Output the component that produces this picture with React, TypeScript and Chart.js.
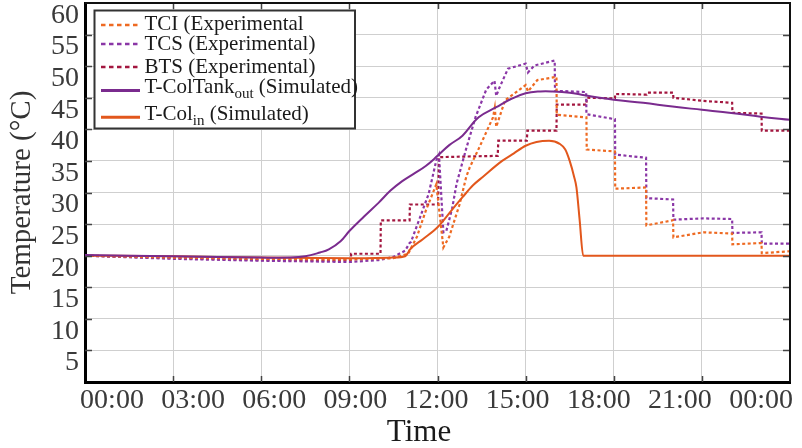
import React, { useEffect, useRef } from 'react';
import { Chart, registerables } from 'chart.js';

Chart.register(...registerables);

// ---- axis ticks ----
const xTickHours = [0, 3, 6, 9, 12, 15, 18, 21, 24];
const xTickLabels = ['00:00', '03:00', '06:00', '09:00', '12:00', '15:00', '18:00', '21:00', '00:00'];
const yMin = 0;
const yMax = 60;
const yStep = 5;

// ---- series (hours of day, °C) ----
const tciHours = [0, 3, 6, 9, 10.5, 11.0, 11.3, 11.6, 11.96, 12.2, 12.4, 12.75, 12.98, 13.1, 13.43, 13.89, 13.95, 14.0, 14.3, 15.0, 15.08, 15.4, 16.05, 16.06, 17.07, 17.08, 18.04, 18.05, 19.1, 19.11, 20.02, 20.03, 21.05, 22.03, 22.04, 23.03, 23.04, 24];
const tciTemps = [20.0, 19.7, 19.5, 19.4, 19.6, 20.3, 23.0, 27.1, 31.3, 21.3, 23.0, 28.1, 32.5, 34.0, 37.2, 41.9, 43.4, 40.4, 44.6, 47.0, 46.0, 47.8, 48.3, 42.3, 41.9, 36.8, 36.5, 30.6, 30.8, 24.8, 25.6, 22.9, 23.7, 23.5, 21.8, 22.0, 20.4, 20.7];

const tcsHours = [0, 3, 6, 9, 10.0, 10.5, 10.9, 11.05, 11.1, 11.4, 11.7, 11.96, 12.05, 12.2, 12.3, 12.5, 12.65, 12.98, 13.3, 13.66, 13.94, 14.0, 14.1, 14.4, 15.0, 15.08, 15.3, 15.99, 16.0, 17.06, 17.07, 18.04, 18.05, 19.1, 19.11, 20.02, 20.03, 21.05, 22.03, 22.04, 23.03, 23.04, 24];
const tcsTemps = [20.0, 19.5, 19.2, 19.0, 19.3, 19.8, 20.8, 22.0, 22.2, 26.0, 29.8, 35.1, 36.0, 23.7, 23.9, 27.5, 31.4, 37.0, 42.0, 46.3, 47.7, 45.3, 46.5, 49.6, 50.4, 49.0, 50.1, 50.9, 46.1, 45.9, 42.4, 41.6, 36.0, 35.5, 29.1, 28.9, 25.7, 25.9, 25.8, 23.6, 23.7, 21.9, 21.9];

const btsHours = [0, 3, 6, 8.5, 9.05, 9.06, 10.06, 10.07, 11.05, 11.06, 12.02, 12.05, 14.05, 14.07, 15.04, 15.06, 16.05, 16.06, 17.07, 17.08, 18.04, 18.05, 19.12, 19.15, 20.02, 20.03, 21.05, 22.03, 22.04, 23.03, 23.04, 24];
const btsTemps = [20.0, 19.6, 19.3, 19.2, 19.3, 20.3, 20.3, 25.6, 25.6, 28.1, 28.1, 35.6, 35.8, 38.2, 38.2, 39.8, 39.8, 43.9, 43.9, 45.0, 44.9, 45.6, 45.5, 45.8, 45.8, 45.0, 44.5, 44.2, 42.6, 42.5, 39.8, 39.8];

const colTankHours = [0, 3, 6, 7.0, 7.5, 8.0, 8.3, 8.7, 9.0, 9.5, 10.0, 10.4, 10.8, 11.2, 11.6, 12.0, 12.4, 12.85, 13.4, 14.0, 14.5, 15.0, 15.5, 15.9, 16.5, 17.0, 18.0, 19.0, 20.0, 21.0, 22.0, 23.0, 24];
const colTankTemps = [20.1, 19.9, 19.7, 19.7, 19.9, 20.5, 21.0, 22.3, 23.9, 26.2, 28.4, 30.3, 31.8, 33.0, 34.2, 35.8, 37.5, 39.0, 41.9, 43.5, 44.8, 45.7, 46.0, 46.0, 45.8, 45.4, 44.7, 44.2, 43.6, 43.1, 42.6, 42.0, 41.5];

const colInHours = [0, 3, 6, 9, 10.5, 10.9, 11.0, 11.05, 11.5, 12.0, 12.5, 12.86, 13.2, 13.55, 14.2, 14.6, 15.0, 15.37, 15.8, 16.16, 16.35, 16.5, 16.65, 16.73, 16.84, 16.96, 24];
const colInTemps = [20.0, 19.9, 19.7, 19.6, 19.7, 19.9, 20.5, 20.9, 22.6, 24.5, 27.3, 29.3, 31.1, 32.5, 35.0, 36.2, 37.4, 38.0, 38.2, 37.7, 36.8, 35.0, 32.5, 30.8, 25.6, 20.0, 20.0];

const seriesLabels = ['TCI (Experimental', 'TCS (Experimental)', 'BTS (Experimental)', 'T-ColTank', 'T-Col'];
const seriesSubs = ['', '', '', 'out', 'in'];
const seriesTails = ['', '', '', ' (Simulated)', ' (Simulated)'];
const seriesColors = ['#EE6A22', '#8A36A6', '#A3163F', '#7A2B8E', '#E2571C'];
const seriesDashed = [true, true, true, false, false];
const seriesCurve = ['default', 'default', 'default', 'default', 'monotone'];
const seriesTension = [0, 0, 0, 0.4, 0.4];

const FONT = '"Liberation Serif", "Times New Roman", serif';

const toPoints = (hs: number[], ts: number[]) => hs.map((h, i) => ({ x: h, y: ts[i] }));

const noPad = (s: any) => {
  s.paddingTop = 0;
  s.paddingBottom = 0;
  s.paddingLeft = 0;
  s.paddingRight = 0;
};

const framePlugin = {
  id: 'frameAndLegend',
  afterDraw(chart: any) {
    const { ctx, chartArea } = chart;
    const { left, right, top, bottom } = chartArea;
    ctx.save();
    // inner tick marks
    ctx.strokeStyle = '#444';
    ctx.lineWidth = 1.5;
    const ys = chart.scales.y;
    for (let v = yMin + yStep; v < yMax; v += yStep) {
      const py = Math.round(ys.getPixelForValue(v)) + 0.5;
      ctx.beginPath();
      ctx.moveTo(left, py); ctx.lineTo(left + 7, py);
      ctx.moveTo(right, py); ctx.lineTo(right - 7, py);
      ctx.stroke();
    }
    const xs = chart.scales.x;
    for (let i = 1; i < xTickHours.length - 1; i++) {
      const px = Math.round(xs.getPixelForValue(xTickHours[i])) + 0.5;
      ctx.beginPath();
      ctx.moveTo(px, bottom); ctx.lineTo(px, bottom - 6);
      ctx.moveTo(px, top); ctx.lineTo(px, top + 6);
      ctx.stroke();
    }
    // top & right frame
    ctx.strokeStyle = '#111';
    ctx.lineWidth = 2;
    ctx.beginPath();
    ctx.moveTo(left, top); ctx.lineTo(right, top); ctx.lineTo(right, bottom);
    ctx.stroke();

    // x axis title
    ctx.fillStyle = '#1a1a1a';
    ctx.font = `31px ${FONT}`;
    ctx.textAlign = 'center';
    ctx.textBaseline = 'alphabetic';
    ctx.fillText('Time', left + 334, 441);

    // legend
    const bx = left + 9.5, by = top + 7.5, bw = 260.5, bh = 118;
    ctx.fillStyle = '#fff';
    ctx.fillRect(bx, by, bw, bh);
    ctx.strokeStyle = '#333';
    ctx.lineWidth = 2;
    ctx.strokeRect(bx, by, bw, bh);
    const lineYs = [22, 41, 64, 87.5, 114.3];
    const textYs = [21.5, 41, 64, 84.5, 111.5];
    for (let i = 0; i < seriesLabels.length; i++) {
      const ly = top + lineYs[i];
      ctx.strokeStyle = seriesColors[i];
      ctx.lineWidth = seriesDashed[i] ? 2.5 : 3;
      ctx.setLineDash(seriesDashed[i] ? [4.5, 3.5] : []);
      ctx.beginPath();
      ctx.moveTo(left + 16, ly); ctx.lineTo(left + 55, ly);
      ctx.stroke();
      ctx.setLineDash([]);
      const ty = top + textYs[i];
      let tx = left + 59.5;
      ctx.fillStyle = '#1a1a1a';
      ctx.textAlign = 'left';
      ctx.textBaseline = 'middle';
      ctx.font = `21px ${FONT}`;
      ctx.fillText(seriesLabels[i], tx, ty);
      tx += ctx.measureText(seriesLabels[i]).width;
      if (seriesSubs[i]) {
        ctx.font = `15px ${FONT}`;
        ctx.fillText(seriesSubs[i], tx, ty + 7);
        tx += ctx.measureText(seriesSubs[i]).width;
        ctx.font = `21px ${FONT}`;
        ctx.fillText(seriesTails[i], tx, ty);
      }
    }
    ctx.restore();
  },
};

export default function App() {
  const canvasRef = useRef<HTMLCanvasElement | null>(null);

  useEffect(() => {
    document.body.style.margin = '0';
    const canvas = canvasRef.current;
    if (!canvas) return;
    const series = [
      toPoints(tciHours, tciTemps),
      toPoints(tcsHours, tcsTemps),
      toPoints(btsHours, btsTemps),
      toPoints(colTankHours, colTankTemps),
      toPoints(colInHours, colInTemps),
    ];
    const datasets = series.map((data, i) => ({
      label: seriesLabels[i] + seriesSubs[i] + seriesTails[i],
      data,
      xAxisID: 'x',
      yAxisID: 'y',
      borderColor: seriesColors[i],
      backgroundColor: seriesColors[i],
      borderWidth: seriesDashed[i] ? 2.2 : 2,
      borderDash: seriesDashed[i] ? [3, 2.5] : [],
      pointRadius: 0,
      tension: seriesTension[i],
      cubicInterpolationMode: seriesCurve[i],
      fill: false,
      order: seriesDashed[i] ? 1 : 0,
    }));

    const chart = new Chart(canvas, {
      type: 'line',
      data: { datasets },
      plugins: [framePlugin],
      options: {
        responsive: false,
        animation: false,
        events: [],
        layout: { padding: { top: 3, right: 12, left: 0, bottom: 0 } },
        plugins: { legend: { display: false }, tooltip: { enabled: false } },
        scales: {
          x: {
            type: 'linear',
            position: 'bottom',
            min: 0,
            max: 24,
            afterBuildTicks: (s: any) => { s.ticks = xTickHours.map((v) => ({ value: v })); },
            afterFit: (s: any) => { s.height = 0; noPad(s); },
            ticks: { display: false },
            grid: { color: '#cfcfcf', lineWidth: 1, drawTicks: false },
            border: { display: true, color: '#000', width: 3 },
          },
          x2: {
            type: 'linear',
            position: 'bottom',
            min: -0.998,
            max: 25.07,
            afterBuildTicks: (s: any) => { s.ticks = xTickHours.map((v) => ({ value: v })); },
            afterFit: (s: any) => { s.height = 66; noPad(s); },
            ticks: {
              autoSkip: false,
              maxRotation: 0,
              padding: 2,
              color: '#3a3a3a',
              font: { family: FONT, size: 28 },
              callback: (_v: any, i: number) => xTickLabels[i],
            },
            grid: { display: false, drawTicks: false },
            border: { display: false },
          },
          y: {
            type: 'linear',
            min: yMin,
            max: yMax,
            afterFit: (s: any) => { s.width = 85; noPad(s); },
            ticks: {
              stepSize: yStep,
              autoSkip: false,
              padding: 6,
              labelOffset: 12.5,
              color: '#3a3a3a',
              font: { family: FONT, size: 28 },
              callback: (v: any) => (v === 0 ? '' : String(v)),
            },
            grid: { color: '#cfcfcf', lineWidth: 1, drawTicks: false },
            border: { display: true, color: '#000', width: 3 },
            title: {
              display: true,
              text: 'Temperature (°C)',
              color: '#333',
              font: { family: FONT, size: 29 },
              padding: { top: 5, bottom: 0 },
            },
          },
        },
      },
    } as any);
    return () => chart.destroy();
  }, []);

  return (
    <div style={{ width: 802, height: 448, position: 'relative' }}>
      <canvas ref={canvasRef} width={802} height={448} />
    </div>
  );
}
